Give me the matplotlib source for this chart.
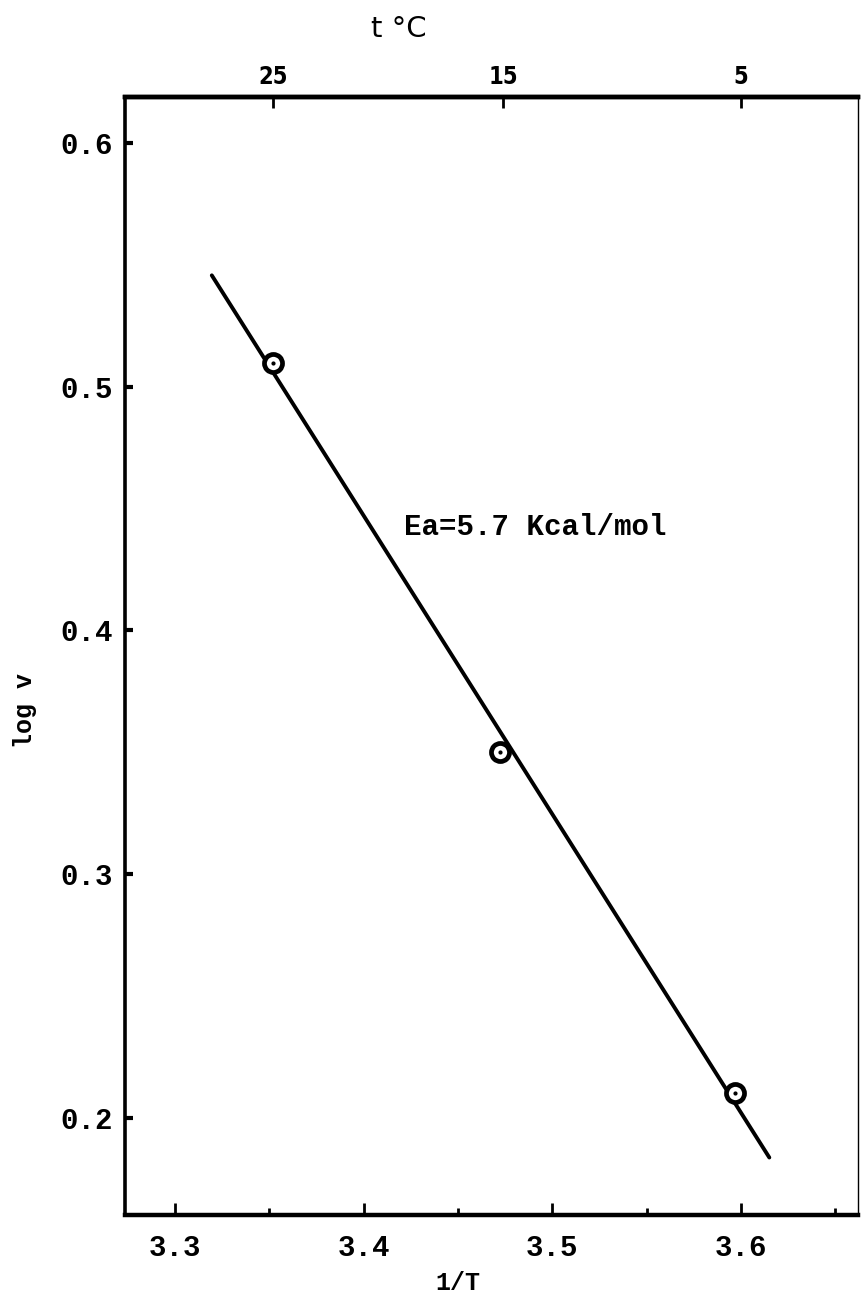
import matplotlib.pyplot as plt
from matplotlib.ticker import MultipleLocator, FormatStrFormatter

# data (1/T in 1000/K, log of rate)
inv_T = [3.352, 3.472, 3.597]
log_v = [0.51, 0.35, 0.21]
fit_x = [3.3195, 3.615]
fit_y = [0.5458, 0.1836]
# temperature scale on top: labels and where they sit on the 1/T scale
top_labels = ['25', '15', '5']
top_pos = [3.352, 3.474, 3.6]

fig = plt.figure(figsize=(8.61, 13.01), dpi=100)
ax = fig.add_axes([0.1452, 0.0661, 0.8513, 0.8593])

ax.plot(fit_x, fit_y, color='black', lw=2.8, solid_capstyle='round', zorder=2)
ax.plot(inv_T, log_v, 'o', ms=13, mfc='white', mec='black', mew=3.4, zorder=3)
ax.plot(inv_T, log_v, '.', ms=4, color='black', zorder=4)

ax.set_xlim(3.2735, 3.662)
ax.set_ylim(0.160, 0.619)

ax.xaxis.set_major_locator(MultipleLocator(0.1))
ax.xaxis.set_minor_locator(MultipleLocator(0.05))
ax.yaxis.set_major_locator(MultipleLocator(0.1))
ax.xaxis.set_major_formatter(FormatStrFormatter('%.1f'))
ax.yaxis.set_major_formatter(FormatStrFormatter('%.1f'))

mono = dict(family='Liberation Mono', weight='bold', size=21)
ax.tick_params(axis='x', which='major', direction='in', length=9, width=2, pad=14)
ax.tick_params(axis='x', which='minor', direction='in', length=5, width=2)
ax.tick_params(axis='y', which='major', direction='in', length=6, width=3, pad=9)
ax.tick_params(top=False)
for lab in ax.get_xticklabels() + ax.get_yticklabels():
    lab.set_fontproperties(mono)

ax.spines['bottom'].set_linewidth(3.2)
ax.spines['top'].set_linewidth(3.2)
ax.spines['left'].set_linewidth(2.6)
ax.spines['right'].set_linewidth(1.0)

# top axis in deg C
top = ax.twiny()
top.set_xlim(ax.get_xlim())
top.set_xticks(top_pos)
top.set_xticklabels(top_labels)
top.tick_params(direction='in', length=8, width=2, pad=6)
for lab in top.get_xticklabels():
    lab.set_fontproperties(dict(family='DejaVu Sans', weight='bold', size=17, stretch='condensed'))
top.spines['top'].set_linewidth(3.2)
for s in ['bottom', 'left', 'right']:
    top.spines[s].set_visible(False)

ax.text(3.4215, 0.4425, 'Ea=5.7 Kcal/mol', family='Liberation Mono', weight='bold',
        fontsize=21, va='center', ha='left')

fig.text(399 / 861, 1 - 29 / 1301, 't \u00b0C', family='DejaVu Sans', fontsize=21,
         ha='center', va='center')
fig.text(458 / 861, 1 - 1283 / 1301, '1/T', family='Liberation Mono', weight='bold',
         fontsize=18, ha='center', va='center')
fig.text(25 / 861, 1 - 710 / 1301, 'log v', family='Liberation Mono', weight='bold',
         fontsize=18, ha='center', va='center', rotation=90)

plt.savefig('out.png', dpi=100)
